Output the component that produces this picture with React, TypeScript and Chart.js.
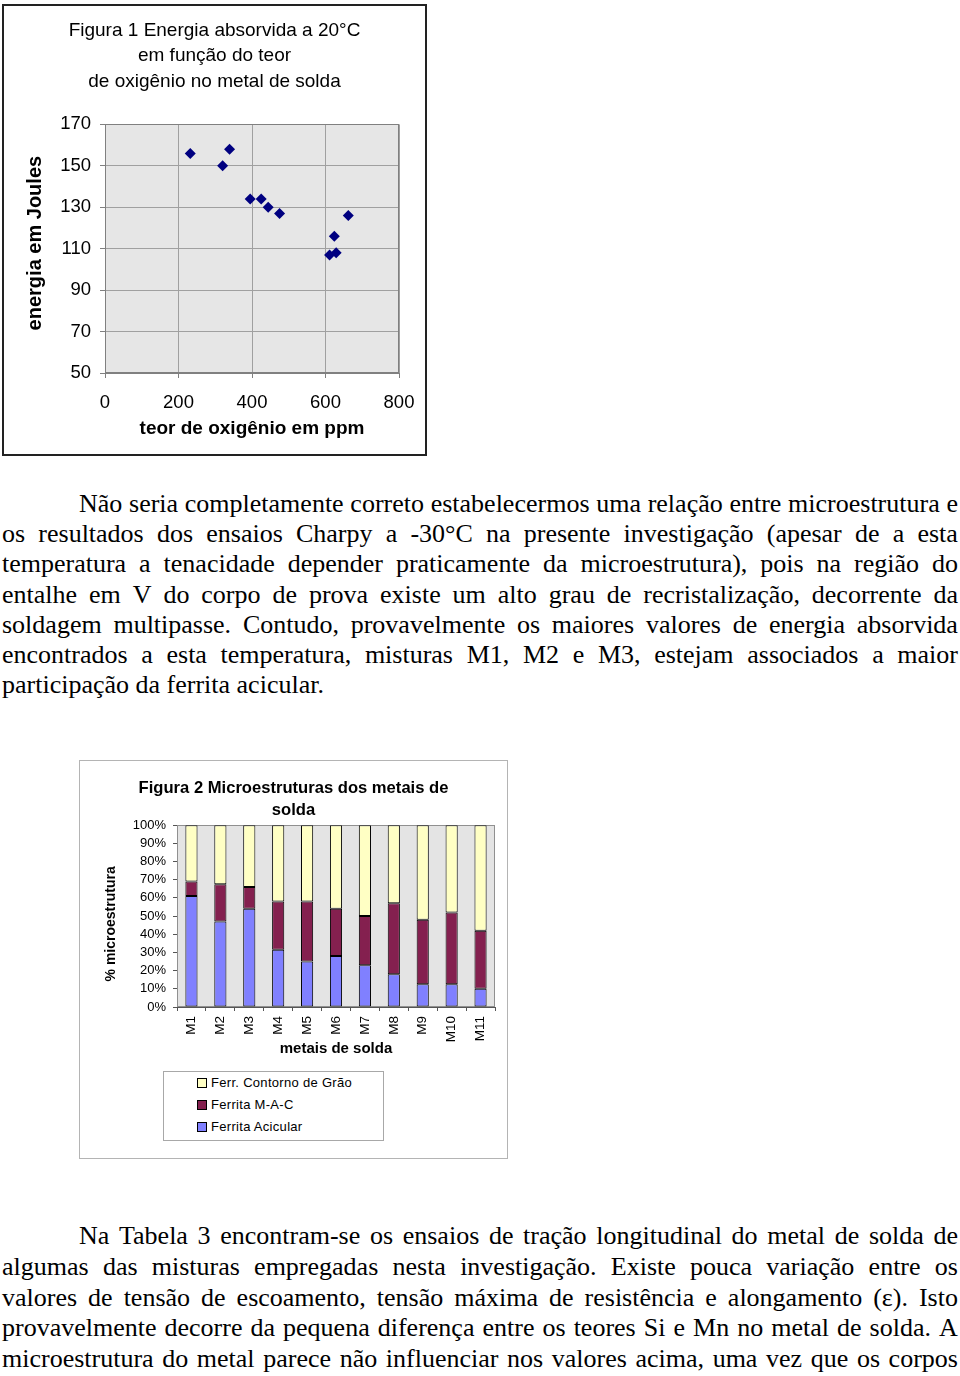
import React, { useEffect, useRef } from 'react';
import { Chart, registerables } from 'chart.js';

Chart.register(...registerables);

const SANS = "'Liberation Sans', Arial, sans-serif";
const SERIF = "'Liberation Serif', 'Times New Roman', serif";

// ---------- Figura 1 data ----------
const fig1Title = ['Figura 1 Energia absorvida a 20°C', 'em função do teor', 'de oxigênio no metal de solda'];
const fig1XTitle = 'teor de oxigênio em ppm';
const fig1YTitle = 'energia em Joules';
const oxygenPpm = [232, 320, 339, 395, 425, 444, 475, 611, 624, 629, 662];
const energyJoules = [156, 150, 158, 134, 134, 130, 127, 107, 116, 108, 126];
const fig1XMin = 0;
const fig1XMax = 800;
const fig1XStep = 200;
const fig1YMin = 50;
const fig1YMax = 170;
const fig1YStep = 20;

// ---------- Figura 2 data ----------
const fig2Title = ['Figura 2 Microestruturas dos metais de', 'solda'];
const fig2XTitle = 'metais de solda';
const fig2YTitle = '% microestrutura';
const metais = ['M1', 'M2', 'M3', 'M4', 'M5', 'M6', 'M7', 'M8', 'M9', 'M10', 'M11'];
const ferritaAcicular = [61, 47, 54, 31.5, 25, 28, 23, 18, 12.5, 12.5, 10];
const ferritaMAC = [8, 20.5, 12, 26.5, 33, 26, 27, 39, 35.5, 39.5, 32];
const ferrContornoGrao = [31, 32.5, 34, 42, 42, 46, 50, 43, 52, 48, 58];
const seriesNames = ['Ferrita Acicular', 'Ferrita M-A-C', 'Ferr. Contorno de Grão'];
const seriesColors = ['#8080ff', '#84204f', '#ffffc4'];

// ---------- text ----------
const para1 = [
  'Não seria completamente correto estabelecermos uma relação entre microestrutura e',
  'os resultados dos ensaios Charpy a -30°C na presente investigação (apesar de a esta',
  'temperatura a tenacidade depender praticamente da microestrutura), pois na região do',
  'entalhe em V do corpo de prova existe um alto grau de recristalização, decorrente da',
  'soldagem multipasse. Contudo, provavelmente os maiores valores de energia absorvida',
  'encontrados a esta temperatura, misturas M1, M2 e M3, estejam associados a maior',
  'participação da ferrita acicular.',
];
const para2 = [
  'Na Tabela 3 encontram-se os ensaios de tração longitudinal do metal de solda de',
  'algumas das misturas empregadas nesta investigação. Existe pouca variação entre os',
  'valores de tensão de escoamento, tensão máxima de resistência e alongamento (ε). Isto',
  'provavelmente decorre da pequena diferença entre os teores Si e Mn no metal de solda. A',
  'microestrutura do metal parece não influenciar nos valores acima, uma vez que os corpos',
];

const plotFrame = {
  id: 'plotFrame',
  beforeDraw(chart: any, _args: any, opts: any) {
    const { ctx, chartArea: a } = chart;
    ctx.save();
    ctx.fillStyle = opts.bg;
    ctx.fillRect(a.left, a.top, a.right - a.left, a.bottom - a.top);
    ctx.restore();
  },
  beforeDatasetsDraw(chart: any, _args: any, opts: any) {
    const { ctx, chartArea: a } = chart;
    ctx.save();
    ctx.strokeStyle = opts.border;
    ctx.lineWidth = 1;
    ctx.strokeRect(Math.round(a.left) + 0.5, Math.round(a.top) + 0.5, Math.round(a.right - a.left) - 1, Math.round(a.bottom - a.top) - 1);
    ctx.restore();
  },
};

// an empty right-hand axis that only reserves space, so the title stays centred on the whole box
const spacerAxis = (w: number) => ({
  position: 'right',
  display: true,
  grid: { display: false },
  border: { display: false },
  ticks: { display: false },
  afterFit: (s: any) => { s.width = w; },
});

function ScatterChart() {
  const ref = useRef<HTMLCanvasElement>(null);
  useEffect(() => {
    const chart = new Chart(ref.current as HTMLCanvasElement, {
      type: 'scatter',
      data: {
        datasets: [
          {
            data: oxygenPpm.map((x, i) => ({ x, y: energyJoules[i] })),
            pointStyle: 'rectRot',
            pointRadius: 5.5,
            backgroundColor: '#000080',
            borderColor: '#000080',
            borderWidth: 0,
          },
        ],
      },
      options: {
        responsive: false,
        animation: false,
        devicePixelRatio: 1,
        layout: { padding: 0 },
        plugins: {
          legend: { display: false },
          tooltip: { enabled: false },
          title: {
            display: true,
            text: fig1Title,
            color: '#000',
            font: { family: SANS, size: 19, weight: 'normal', lineHeight: 1.34 },
            padding: { top: 12, bottom: 30 },
          },
          plotFrame: { bg: '#e6e6e6', border: '#808080' },
        } as any,
        scales: {
          x: {
            type: 'linear',
            min: fig1XMin,
            max: fig1XMax,
            ticks: { stepSize: fig1XStep, color: '#000', font: { family: SANS, size: 18.5, lineHeight: 2.38 }, padding: 3 },
            grid: { color: '#a0a0a0', tickLength: 5, tickColor: '#808080' },
            border: { color: '#808080' },
            title: {
              display: true,
              text: fig1XTitle,
              color: '#000',
              font: { family: SANS, size: 19, weight: 'bold' },
              padding: { top: 0, bottom: 14 },
            },
            afterFit: (s: any) => { s.height = 81; },
          },
          y: {
            type: 'linear',
            min: fig1YMin,
            max: fig1YMax,
            ticks: { stepSize: fig1YStep, color: '#000', font: { family: SANS, size: 18.5 }, padding: 9 },
            grid: { color: '#a0a0a0', tickLength: 5, tickColor: '#808080' },
            border: { color: '#808080' },
            title: {
              display: true,
              text: '  ' + fig1YTitle,
              color: '#000',
              font: { family: SANS, size: 20, weight: 'bold' },
              padding: { top: 19, bottom: 0 },
            },
            afterFit: (s: any) => { s.width = 101; },
          },
          yRight: spacerAxis(26),
        },
      } as any,
      plugins: [plotFrame],
    });
    return () => chart.destroy();
  }, []);
  return <canvas ref={ref} width={421} height={448} style={{ display: 'block' }} />;
}

function BarChart() {
  const ref = useRef<HTMLCanvasElement>(null);
  useEffect(() => {
    const values = [ferritaAcicular, ferritaMAC, ferrContornoGrao];
    const chart = new Chart(ref.current as HTMLCanvasElement, {
      type: 'bar',
      data: {
        labels: metais,
        datasets: values.map((v, i) => ({
          label: seriesNames[i],
          data: v,
          backgroundColor: seriesColors[i],
          borderColor: '#000',
          borderWidth: 1,
          borderSkipped: false,
          barPercentage: 0.42,
          categoryPercentage: 1,
          yAxisID: 'y',
        })),
      },
      options: {
        responsive: false,
        animation: false,
        devicePixelRatio: 1,
        layout: { padding: { left: 0, right: 0, top: 0, bottom: 97 } },
        plugins: {
          legend: { display: false },
          tooltip: { enabled: false },
          title: {
            display: true,
            text: fig2Title,
            color: '#000',
            font: { family: SANS, size: 16.6, weight: 'bold', lineHeight: 1.33 },
            padding: { top: 16, bottom: 4 },
          },
          plotFrame: { bg: '#e4e4e4', border: '#909090' },
        } as any,
        scales: {
          x: {
            stacked: true,
            ticks: { color: '#000', font: { family: SANS, size: 13.5 }, padding: 5, minRotation: 90, maxRotation: 90, autoSkip: false },
            grid: { drawOnChartArea: false, tickLength: 4, tickColor: '#555', offset: true },
            border: { color: '#555' },
            title: {
              display: true,
              text: fig2XTitle,
              color: '#000',
              font: { family: SANS, size: 15, weight: 'bold' },
              padding: { top: 0, bottom: 3 },
            },
            afterFit: (s: any) => { s.height = 54; },
          },
          y: {
            stacked: true,
            min: 0,
            max: 100,
            ticks: { stepSize: 10, color: '#000', font: { family: SANS, size: 13 }, padding: 7, autoSkip: false, callback: (v: any) => v + '%' },
            grid: { drawOnChartArea: false, tickLength: 4, tickColor: '#555' },
            border: { color: '#555' },
            title: {
              display: true,
              text: fig2YTitle + '    ',
              color: '#000',
              font: { family: SANS, size: 14, weight: 'bold' },
              padding: { top: 22.5, bottom: 0 },
            },
            afterFit: (s: any) => { s.width = 97; },
          },
          yRight: spacerAxis(12),
        },
      } as any,
      plugins: [plotFrame],
    });
    return () => chart.destroy();
  }, []);
  return <canvas ref={ref} width={427} height={397} style={{ display: 'block' }} />;
}

function Line({ text, top, lh, indent, justify }: { text: string; top: number; lh: number; indent?: boolean; justify: boolean }) {
  const words = text.split(' ');
  return (
    <div
      style={{
        position: 'absolute',
        left: 2,
        top,
        width: 956,
        height: lh,
        lineHeight: lh + 'px',
        fontSize: 26,
        fontFamily: SERIF,
        color: '#000',
        whiteSpace: 'nowrap',
        boxSizing: 'border-box',
        paddingLeft: indent ? 77 : 0,
        display: justify ? 'flex' : 'block',
        justifyContent: 'space-between',
      }}
    >
      {justify ? words.map((w, i) => <span key={i}>{w}</span>) : text}
    </div>
  );
}

export default function App() {
  const legendOrder = [2, 1, 0];
  return (
    <div style={{ position: 'absolute', left: 0, top: 0, width: 960, height: 1376, overflow: 'hidden', background: '#fff' }}>
      <div style={{ position: 'absolute', left: 2, top: 4, width: 425, height: 452, border: '2px solid #222', boxSizing: 'border-box', background: '#fff' }}>
        <ScatterChart />
      </div>

      {para1.map((t, i) => (
        <Line key={'p1' + i} text={t} top={489 + i * 30.17} lh={30} indent={i === 0} justify={i < para1.length - 1} />
      ))}

      <div style={{ position: 'absolute', left: 79, top: 760, width: 429, height: 399, border: '1px solid #b4b4b4', boxSizing: 'border-box', background: '#fff' }}>
        <BarChart />
      </div>
      <div style={{ position: 'absolute', left: 163, top: 1071, width: 221, height: 70, border: '1px solid #a8a8a8', boxSizing: 'border-box', background: '#fff', fontFamily: SANS, fontSize: 13, letterSpacing: '0.3px' }}>
        {legendOrder.map((si, k) => (
          <div key={si} style={{ position: 'absolute', left: 33, top: 1 + k * 22, height: 20, lineHeight: '20px', display: 'flex', alignItems: 'center', whiteSpace: 'nowrap' }}>
            <span style={{ display: 'inline-block', width: 8, height: 8, background: seriesColors[si], border: '1px solid #000', marginRight: 4 }} />
            <span>{seriesNames[si]}</span>
          </div>
        ))}
      </div>

      {para2.map((t, i) => (
        <Line key={'p2' + i} text={t} top={1221 + i * 30.75} lh={30} indent={i === 0} justify={true} />
      ))}
    </div>
  );
}
